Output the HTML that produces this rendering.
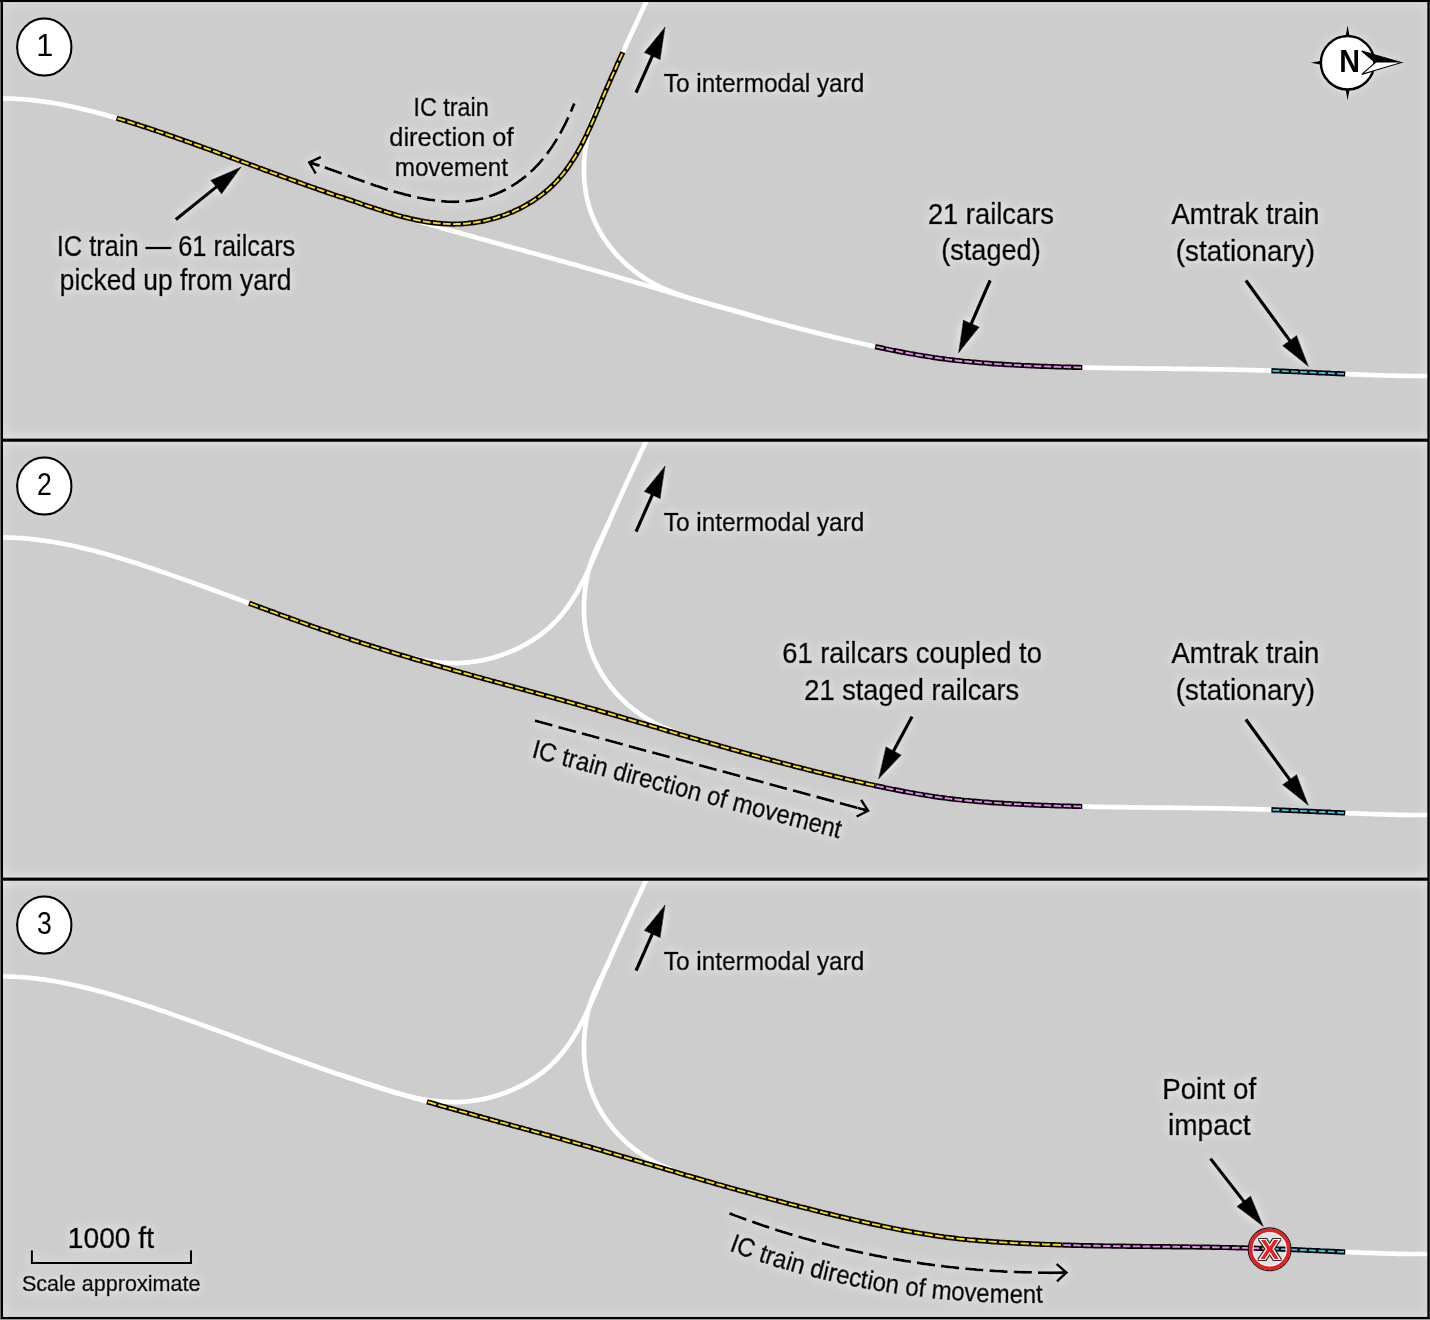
<!DOCTYPE html>
<html lang="en"><head><meta charset="utf-8"><title>Railcar movement diagram</title>
<style>html,body{margin:0;padding:0;background:#cdcdcd}svg{display:block}</style></head>
<body>
<svg width="1430" height="1320" viewBox="0 0 1430 1320" font-family="'Liberation Sans', sans-serif">
<defs>
<filter id="glowu" x="-100" y="-100" width="1700" height="700" filterUnits="userSpaceOnUse">
<feGaussianBlur in="SourceAlpha" stdDeviation="5" result="b"/>
<feFlood flood-color="#fff" flood-opacity="1"/><feComposite in2="b" operator="in" result="g"/>
<feComponentTransfer in="g" result="g2"><feFuncA type="linear" slope="0.9"/></feComponentTransfer>
<feMerge><feMergeNode in="g2"/><feMergeNode in="SourceGraphic"/></feMerge>
</filter>
<filter id="glowc" x="1280" y="0" width="150" height="130" filterUnits="userSpaceOnUse">
<feGaussianBlur in="SourceAlpha" stdDeviation="4" result="b"/>
<feFlood flood-color="#fff" flood-opacity="1"/><feComposite in2="b" operator="in" result="g"/>
<feComponentTransfer in="g" result="g2"><feFuncA type="linear" slope="0.5"/></feComponentTransfer>
<feMerge><feMergeNode in="g2"/><feMergeNode in="SourceGraphic"/></feMerge>
</filter>
<filter id="glowk" x="0" y="0" width="120" height="1000" filterUnits="userSpaceOnUse">
<feGaussianBlur in="SourceAlpha" stdDeviation="4" result="b"/>
<feFlood flood-color="#fff" flood-opacity="1"/><feComposite in2="b" operator="in" result="g"/>
<feComponentTransfer in="g" result="g2"><feFuncA type="linear" slope="0.18"/></feComponentTransfer>
<feMerge><feMergeNode in="g2"/><feMergeNode in="SourceGraphic"/></feMerge>
</filter>
<filter id="glowf" x="0" y="0" width="1430" height="1320" filterUnits="userSpaceOnUse">
<feGaussianBlur in="SourceAlpha" stdDeviation="6" result="b"/>
<feFlood flood-color="#fff" flood-opacity="1"/><feComposite in2="b" operator="in" result="g"/>
<feComponentTransfer in="g" result="g2"><feFuncA type="linear" slope="1.0"/></feComponentTransfer>
<feMerge><feMergeNode in="g2"/><feMergeNode in="SourceGraphic"/></feMerge>
</filter>
<filter id="xo" x="1240" y="1220" width="60" height="60" filterUnits="userSpaceOnUse">
<feMorphology in="SourceAlpha" operator="dilate" radius="0.55" result="d"/>
<feFlood flood-color="#2a2a2a"/><feComposite in2="d" operator="in" result="o"/>
<feMerge><feMergeNode in="o"/><feMergeNode in="SourceGraphic"/></feMerge>
</filter>
<clipPath id="pc"><rect x="0" y="0" width="1430" height="439.5"/></clipPath>
<g id="trk"><path d="M-2.0,98.5 L1.0,98.5 L4.0,98.5 L7.0,98.5 L10.0,98.6 L13.0,98.7 L16.0,98.9 L19.0,99.0 L22.0,99.2 L25.0,99.5 L28.0,99.7 L30.9,100.0 L33.9,100.3 L36.9,100.7 L39.9,101.1 L42.9,101.4 L45.8,101.9 L48.8,102.3 L51.8,102.8 L54.7,103.3 L57.7,103.8 L60.6,104.3 L63.6,104.9 L66.5,105.5 L69.5,106.1 L72.4,106.7 L75.3,107.3 L78.3,108.0 L81.2,108.7 L84.1,109.4 L87.0,110.1 L89.9,110.8 L92.8,111.5 L95.7,112.3 L98.6,113.1 L101.5,113.8 L104.4,114.6 L107.3,115.4 L110.2,116.3 L113.1,117.1 L116.0,117.9 L118.8,118.8 L121.7,119.7 L124.6,120.5 L127.4,121.4 L130.3,122.3 L133.2,123.2 L136.0,124.1 L138.9,125.1 L141.7,126.0 L144.6,126.9 L147.4,127.9 L150.3,128.8 L153.1,129.8 L156.0,130.7 L158.8,131.7 L161.6,132.7 L164.5,133.6 L167.3,134.6 L170.1,135.6 L173.0,136.6 L175.8,137.6 L178.6,138.6 L181.5,139.6 L184.3,140.6 L187.1,141.6 L190.0,142.6 L192.8,143.6 L195.6,144.6 L198.4,145.6 L201.2,146.6 L204.1,147.7 L206.9,148.7 L209.7,149.7 L212.5,150.7 L215.3,151.8 L218.2,152.8 L221.0,153.8 L223.8,154.9 L226.6,155.9 L229.4,156.9 L232.2,158.0 L235.0,159.0 L237.9,160.1 L240.7,161.1 L243.5,162.1 L246.3,163.2 L249.1,164.2 L251.9,165.3 L254.7,166.3 L257.6,167.3 L260.4,168.4 L263.2,169.4 L266.0,170.5 L268.8,171.5 L271.6,172.5 L274.4,173.6 L277.3,174.6 L280.1,175.6 L282.9,176.7 L285.7,177.7 L288.5,178.7 L291.4,179.7 L294.2,180.8 L297.0,181.8 L299.8,182.8 L302.6,183.8 L305.5,184.8 L308.3,185.8 L311.1,186.8 L314.0,187.8 L316.8,188.8 L319.6,189.8 L322.5,190.8 L325.3,191.8 L328.1,192.7 L331.0,193.7 L333.8,194.7 L336.6,195.7 L339.5,196.6 L342.3,197.6 L345.2,198.5 L348.0,199.5 L350.9,200.4 L353.7,201.3 L356.6,202.3 L359.4,203.2 L362.3,204.1 L365.1,205.0 L368.0,205.9 L370.9,206.8 L373.7,207.7 L376.6,208.6 L379.4,209.5 L382.3,210.4 L385.2,211.3 L388.0,212.2 L390.9,213.0 L393.8,213.9 L396.7,214.8 L399.5,215.6 L402.4,216.5 L405.3,217.4 L408.2,218.2 L411.0,219.1 L413.9,219.9 L416.8,220.8 L419.7,221.6 L422.6,222.4 L425.4,223.3 L428.3,224.1 L431.2,224.9 L434.1,225.8 L437.0,226.6 L439.9,227.4 L442.7,228.2 L445.6,229.0 L448.5,229.9 L451.4,230.7 L454.3,231.5 L457.2,232.3 L460.1,233.1 L463.0,233.9 L465.8,234.7 L468.7,235.5 L471.6,236.3 L474.5,237.1 L477.4,237.9 L480.3,238.7 L483.2,239.5 L486.1,240.3 L489.0,241.1 L491.9,241.9 L494.8,242.7 L497.7,243.5 L500.6,244.3 L503.4,245.1 L506.3,245.9 L509.2,246.6 L512.1,247.4 L515.0,248.2 L517.9,249.0 L520.8,249.8 L523.7,250.6 L526.6,251.4 L529.5,252.2 L532.4,253.0 L535.3,253.8 L538.2,254.6 L541.1,255.4 L544.0,256.2 L546.8,257.0 L549.7,257.8 L552.6,258.6 L555.5,259.4 L558.4,260.2 L561.3,261.0 L564.2,261.8 L567.1,262.6 L570.0,263.4 L572.9,264.2 L575.7,265.0 L578.6,265.8 L581.5,266.7 L584.4,267.5 L587.3,268.3 L590.2,269.1 L593.1,270.0 L595.9,270.8 L598.8,271.6 L601.7,272.5 L604.6,273.3 L607.5,274.1 L610.3,275.0 L613.2,275.8 L616.1,276.6 L619.0,277.5 L621.9,278.3 L624.7,279.2 L627.6,280.0 L630.5,280.8 L633.4,281.7 L636.3,282.5 L639.1,283.4 L642.0,284.2 L644.9,285.1 L647.8,285.9 L650.6,286.8 L653.5,287.6 L656.4,288.5 L659.3,289.3 L662.2,290.2 L665.0,291.0 L667.9,291.8 L670.8,292.7 L673.7,293.5 L676.6,294.4 L679.4,295.2 L682.3,296.1 L685.2,296.9 L688.1,297.7 L691.0,298.6 L693.8,299.4 L696.7,300.2 L699.6,301.1 L702.5,301.9 L705.4,302.7 L708.2,303.6 L711.1,304.4 L714.0,305.2 L716.9,306.0 L719.8,306.9 L722.7,307.7 L725.6,308.5 L728.4,309.3 L731.3,310.1 L734.2,310.9 L737.1,311.7 L740.0,312.6 L742.9,313.4 L745.8,314.2 L748.7,315.0 L751.6,315.8 L754.5,316.6 L757.4,317.3 L760.2,318.1 L763.1,318.9 L766.0,319.7 L768.9,320.5 L771.8,321.3 L774.7,322.0 L777.6,322.8 L780.5,323.6 L783.4,324.3 L786.3,325.1 L789.2,325.9 L792.1,326.6 L795.0,327.4 L797.9,328.1 L800.8,328.9 L803.8,329.6 L806.7,330.4 L809.6,331.1 L812.5,331.8 L815.4,332.6 L818.3,333.3 L821.2,334.0 L824.1,334.7 L827.0,335.4 L830.0,336.1 L832.9,336.9 L835.8,337.6 L838.7,338.3 L841.6,338.9 L844.5,339.6 L847.5,340.3 L850.4,341.0 L853.3,341.7 L856.2,342.3 L859.2,343.0 L862.1,343.7 L865.0,344.3 L867.9,345.0 L870.9,345.6 L873.8,346.3 L876.7,346.9 L879.7,347.5 L882.6,348.2 L885.5,348.8 L888.5,349.4 L891.4,350.0 L894.4,350.6 L897.3,351.1 L900.2,351.7 L903.2,352.3 L906.1,352.8 L909.1,353.4 L912.0,353.9 L915.0,354.4 L918.0,355.0 L920.9,355.5 L923.9,355.9 L926.8,356.4 L929.8,356.9 L932.8,357.3 L935.7,357.8 L938.7,358.2 L941.7,358.6 L944.6,359.0 L947.6,359.4 L950.6,359.8 L953.6,360.1 L956.6,360.5 L959.5,360.8 L962.5,361.1 L965.5,361.4 L968.5,361.7 L971.5,362.0 L974.5,362.3 L977.5,362.5 L980.4,362.8 L983.4,363.0 L986.4,363.2 L989.4,363.4 L992.4,363.7 L995.4,363.9 L998.4,364.1 L1001.4,364.3 L1004.4,364.4 L1007.4,364.6 L1010.4,364.8 L1013.4,365.0 L1016.4,365.1 L1019.4,365.3 L1022.4,365.4 L1025.4,365.6 L1028.4,365.7 L1031.3,365.8 L1034.3,366.0 L1037.3,366.1 L1040.3,366.2 L1043.3,366.3 L1046.3,366.5 L1049.3,366.6 L1052.3,366.7 L1055.3,366.8 L1058.3,366.9 L1061.3,367.0 L1064.3,367.0 L1067.3,367.1 L1070.3,367.2 L1073.3,367.3 L1076.3,367.4 L1079.3,367.4 L1082.3,367.5 L1085.3,367.6 L1088.3,367.6 L1091.3,367.7 L1094.3,367.8 L1097.3,367.8 L1100.3,367.9 L1103.3,367.9 L1106.3,368.0 L1109.3,368.0 L1112.3,368.1 L1115.3,368.1 L1118.3,368.2 L1121.3,368.2 L1124.3,368.2 L1127.3,368.3 L1130.3,368.3 L1133.3,368.4 L1136.3,368.4 L1139.3,368.4 L1142.3,368.5 L1145.3,368.5 L1148.3,368.5 L1151.3,368.6 L1154.3,368.6 L1157.3,368.6 L1160.3,368.7 L1163.3,368.7 L1166.3,368.7 L1169.3,368.7 L1172.3,368.8 L1175.3,368.8 L1178.3,368.8 L1181.3,368.9 L1184.3,368.9 L1187.3,368.9 L1190.3,369.0 L1193.3,369.0 L1196.3,369.1 L1199.3,369.1 L1202.3,369.1 L1205.3,369.2 L1208.3,369.2 L1211.3,369.3 L1214.3,369.3 L1217.3,369.4 L1220.3,369.4 L1223.3,369.5 L1226.3,369.5 L1229.3,369.6 L1232.3,369.7 L1235.3,369.7 L1238.3,369.8 L1241.3,369.9 L1244.3,369.9 L1247.3,370.0 L1250.3,370.1 L1253.3,370.2 L1256.3,370.2 L1259.3,370.3 L1262.3,370.4 L1265.3,370.5 L1268.3,370.6 L1271.3,370.7 L1274.3,370.8 L1277.3,371.0 L1280.3,371.1 L1283.3,371.2 L1286.3,371.3 L1289.3,371.4 L1292.3,371.6 L1295.3,371.7 L1298.3,371.8 L1301.3,372.0 L1304.3,372.1 L1307.3,372.2 L1310.3,372.4 L1313.2,372.5 L1316.2,372.7 L1319.2,372.8 L1322.2,372.9 L1325.2,373.1 L1328.2,373.2 L1331.2,373.4 L1334.2,373.5 L1337.2,373.6 L1340.2,373.8 L1343.2,373.9 L1346.2,374.0 L1349.2,374.2 L1352.2,374.3 L1355.2,374.4 L1358.2,374.5 L1361.2,374.7 L1364.2,374.8 L1367.2,374.9 L1370.2,375.0 L1373.2,375.1 L1376.2,375.2 L1379.2,375.3 L1382.2,375.4 L1385.2,375.5 L1388.2,375.6 L1391.2,375.6 L1394.2,375.7 L1397.2,375.8 L1400.2,375.8 L1403.2,375.9 L1406.2,375.9 L1409.2,376.0 L1412.2,376.0 L1415.2,376.0 L1418.2,376.0 L1421.2,376.0 L1424.2,376.0 L1427.2,376.0 L1430.2,376.0 L1432.0,376.0" fill="none" stroke="#fff" stroke-width="4.7"/><path d="M340.1,196.7 L343.0,197.6 L345.8,198.6 L348.6,199.5 L351.5,200.5 L354.3,201.5 L357.2,202.4 L360.0,203.4 L362.8,204.4 L365.7,205.3 L368.5,206.3 L371.4,207.2 L374.2,208.2 L377.1,209.1 L379.9,210.0 L382.8,210.9 L385.7,211.8 L388.5,212.7 L391.4,213.6 L394.3,214.4 L397.2,215.2 L400.1,216.0 L403.0,216.8 L405.9,217.5 L408.8,218.2 L411.7,218.9 L414.6,219.6 L417.6,220.2 L420.5,220.8 L423.5,221.3 L426.4,221.8 L429.4,222.2 L432.4,222.7 L435.3,223.0 L438.3,223.3 L441.3,223.6 L444.3,223.8 L447.3,223.9 L450.3,224.0 L453.3,224.1 L456.3,224.1 L459.3,224.0 L462.3,223.8 L465.3,223.6 L468.3,223.3 L471.3,223.0 L474.2,222.6 L477.2,222.2 L480.1,221.6 L483.1,221.1 L486.0,220.4 L488.9,219.7 L491.8,219.0 L494.7,218.2 L497.6,217.3 L500.5,216.4 L503.3,215.4 L506.1,214.4 L508.9,213.3 L511.7,212.2 L514.4,211.0 L517.2,209.7 L519.9,208.4 L522.5,207.0 L525.2,205.6 L527.8,204.1 L530.3,202.6 L532.9,201.0 L535.4,199.3 L537.9,197.6 L540.3,195.8 L542.7,194.0 L545.0,192.2 L547.3,190.2 L549.6,188.2 L551.8,186.2 L553.9,184.1 L556.0,182.0 L558.0,179.8 L560.0,177.5 L562.0,175.2 L563.8,172.9 L565.7,170.5 L567.5,168.1 L569.2,165.6 L570.9,163.2 L572.5,160.6 L574.1,158.1 L575.7,155.5 L577.2,153.0 L578.7,150.3 L580.1,147.7 L581.5,145.1 L582.9,142.4 L584.2,139.7 L585.6,137.0 L586.8,134.3 L588.1,131.6 L589.4,128.9 L590.6,126.1 L591.8,123.4 L593.0,120.6 L594.2,117.9 L595.4,115.1 L596.5,112.4 L597.7,109.6 L598.8,106.8 L600.0,104.1 L601.2,101.3 L602.3,98.5 L603.5,95.8 L604.7,93.0 L605.9,90.3 L607.1,87.5 L608.3,84.8 L609.5,82.0 L610.7,79.3 L611.9,76.5 L613.1,73.8 L614.3,71.0 L615.6,68.3 L616.8,65.6 L618.0,62.8 L619.3,60.1 L620.5,57.4 L621.7,54.6 L623.0,51.9 L624.2,49.2 L625.5,46.4 L626.7,43.7 L628.0,41.0 L629.3,38.3 L630.5,35.5 L631.8,32.8 L633.0,30.1 L634.3,27.4 L635.6,24.7 L636.8,21.9 L638.1,19.2 L639.4,16.5 L640.6,13.8 L641.9,11.1 L643.2,8.4 L644.4,5.6 L645.7,2.9 L647.0,0.2 L648.3,-2.5 L648.8,-3.6" fill="none" stroke="#fff" stroke-width="4.7"/><path d="M608.7,84.1 L607.5,86.8 L606.2,89.6 L604.9,92.3 L603.6,95.0 L602.3,97.7 L600.9,100.3 L599.6,103.0 L598.3,105.7 L597.0,108.4 L595.8,111.2 L594.5,113.9 L593.4,116.7 L592.3,119.5 L591.3,122.3 L590.4,125.1 L589.5,128.0 L588.7,130.9 L588.0,133.8 L587.4,136.8 L586.8,139.7 L586.3,142.7 L585.8,145.6 L585.4,148.6 L585.0,151.6 L584.7,154.6 L584.5,157.5 L584.3,160.5 L584.1,163.5 L584.0,166.5 L584.0,169.5 L584.0,172.5 L584.1,175.5 L584.3,178.5 L584.5,181.5 L584.8,184.5 L585.1,187.5 L585.5,190.5 L586.0,193.4 L586.6,196.4 L587.2,199.3 L587.9,202.2 L588.7,205.1 L589.6,208.0 L590.5,210.8 L591.5,213.7 L592.6,216.5 L593.7,219.2 L595.0,222.0 L596.2,224.7 L597.6,227.4 L599.0,230.0 L600.5,232.6 L602.0,235.2 L603.6,237.7 L605.3,240.2 L607.0,242.7 L608.8,245.1 L610.6,247.5 L612.5,249.8 L614.4,252.1 L616.4,254.4 L618.4,256.6 L620.5,258.7 L622.6,260.8 L624.8,262.9 L627.0,264.9 L629.3,266.9 L631.6,268.8 L633.9,270.7 L636.3,272.5 L638.8,274.3 L641.2,276.0 L643.7,277.7 L646.2,279.3 L648.8,280.8 L651.4,282.3 L654.0,283.8 L656.7,285.1 L659.4,286.5 L662.1,287.8 L664.8,289.0 L667.6,290.2 L670.4,291.3 L673.2,292.4 L676.0,293.5 L678.8,294.5 L681.6,295.5 L684.4,296.5 L687.3,297.4 L690.2,298.3 L693.0,299.2 L695.9,300.1 L698.8,300.9 L701.7,301.8 L704.5,302.6 L707.4,303.4 L710.3,304.1 L713.2,304.9 L716.1,305.7 L719.0,306.4 L721.9,307.2 L724.8,308.0 L727.7,308.7 L730.6,309.5 L733.5,310.3 L736.4,311.1 L739.3,311.9 L742.2,312.7 L745.1,313.5 L748.0,314.4 L750.8,315.2 L753.7,316.1 L756.6,317.1 L759.4,318.0 L759.8,318.2" fill="none" stroke="#fff" stroke-width="4.7"/></g></defs>
<rect width="1430" height="1320" fill="#cdcdcd"/>
<g transform="translate(0,0)" clip-path="url(#pc)"><use href="#trk"/><path d="M116.6,118.1 L119.0,118.9 L121.4,119.6 L123.8,120.3 L126.2,121.0 L128.6,121.8 L130.9,122.5 L133.3,123.3 L135.7,124.1 L138.1,124.8 L140.5,125.6 L142.8,126.4 L145.2,127.1 L147.6,127.9 L150.0,128.7 L152.3,129.5 L154.7,130.3 L157.1,131.1 L159.4,131.9 L161.8,132.7 L164.2,133.5 L166.5,134.3 L168.9,135.2 L171.3,136.0 L173.6,136.8 L176.0,137.6 L178.3,138.5 L180.7,139.3 L183.1,140.1 L185.4,141.0 L187.8,141.8 L190.1,142.6 L192.5,143.5 L194.8,144.3 L197.2,145.2 L199.5,146.0 L201.9,146.9 L204.2,147.7 L206.6,148.6 L208.9,149.4 L211.3,150.3 L213.6,151.1 L216.0,152.0 L218.3,152.9 L220.7,153.7 L223.0,154.6 L225.4,155.4 L227.7,156.3 L230.1,157.2 L232.4,158.0 L234.7,158.9 L237.1,159.8 L239.4,160.6 L241.8,161.5 L244.1,162.4 L246.5,163.2 L248.8,164.1 L251.2,165.0 L253.5,165.8 L255.8,166.7 L258.2,167.6 L260.5,168.4 L262.9,169.3 L265.2,170.2 L267.6,171.0 L269.9,171.9 L272.3,172.8 L274.6,173.6 L277.0,174.5 L279.3,175.3 L281.7,176.2 L284.0,177.1 L286.4,177.9 L288.7,178.8 L291.1,179.6 L293.4,180.5 L295.8,181.3 L298.1,182.2 L300.5,183.0 L302.8,183.9 L305.2,184.7 L307.5,185.5 L309.9,186.4 L312.2,187.2 L314.6,188.0 L317.0,188.9 L319.3,189.7 L321.7,190.5 L324.0,191.3 L326.4,192.2 L328.8,193.0 L331.1,193.8 L333.5,194.6 L335.9,195.4 L338.2,196.2 L340.6,196.9 L343.0,197.6 L345.4,198.4 L347.7,199.2 L350.1,200.0 L352.5,200.8 L354.9,201.6 L357.2,202.4 L359.6,203.2 L362.0,204.1 L364.3,204.9 L366.7,205.7 L369.1,206.5 L371.4,207.2 L373.8,208.0 L376.2,208.8 L378.6,209.6 L380.9,210.3 L383.3,211.1 L385.7,211.8 L388.1,212.6 L390.5,213.3 L392.9,214.0 L395.3,214.7 L397.7,215.4 L400.1,216.0 L402.5,216.7 L404.9,217.3 L407.4,217.9 L409.8,218.5 L412.2,219.0 L414.7,219.6 L417.1,220.1 L419.6,220.6 L422.0,221.0 L424.5,221.5 L427.0,221.9 L429.4,222.3 L431.9,222.6 L434.4,222.9 L436.9,223.2 L439.4,223.4 L441.9,223.6 L444.4,223.8 L446.9,223.9 L449.4,224.0 L451.9,224.1 L454.4,224.1 L456.8,224.0 L459.3,224.0 L461.8,223.8 L464.3,223.7 L466.8,223.5 L469.3,223.2 L471.8,222.9 L474.3,222.6 L476.8,222.2 L479.2,221.8 L481.7,221.4 L484.1,220.9 L486.6,220.3 L489.0,219.7 L491.4,219.1 L493.8,218.5 L496.2,217.8 L498.6,217.0 L501.0,216.2 L503.4,215.4 L505.7,214.6 L508.0,213.7 L510.4,212.7 L512.7,211.8 L514.9,210.7 L517.2,209.7 L519.5,208.6 L521.7,207.5 L523.9,206.3 L526.1,205.1 L528.2,203.8 L530.4,202.5 L532.5,201.2 L534.6,199.8 L536.7,198.4 L538.7,197.0 L540.7,195.5 L542.7,194.0 L544.7,192.4 L546.6,190.8 L548.5,189.2 L550.3,187.5 L552.2,185.8 L553.9,184.1 L555.7,182.3 L557.4,180.5 L559.1,178.6 L560.7,176.7 L562.3,174.8 L563.9,172.8 L565.4,170.9 L566.9,168.9 L568.4,166.8 L569.8,164.8 L571.2,162.7 L572.5,160.6 L573.9,158.5 L575.2,156.4 L576.5,154.2 L577.7,152.0 L578.9,149.9 L580.1,147.7 L581.3,145.5 L582.5,143.2 L583.6,141.0 L584.7,138.8 L585.8,136.5 L586.9,134.3 L587.9,132.0 L589.0,129.7 L590.0,127.5 L591.0,125.2 L592.0,122.9 L593.0,120.6 L594.0,118.3 L595.0,116.0 L596.0,113.7 L596.9,111.4 L597.9,109.1 L598.9,106.8 L599.8,104.5 L600.8,102.2 L601.8,99.9 L602.8,97.6 L603.7,95.3 L604.7,93.0 L605.7,90.7 L606.7,88.4 L607.7,86.1 L608.7,83.8 L609.7,81.5 L610.7,79.2 L611.7,76.9 L612.7,74.6 L613.8,72.4 L614.8,70.1 L615.8,67.8 L616.8,65.5 L617.8,63.2 L618.9,61.0 L619.9,58.7 L620.9,56.4 L622.0,54.1 L622.8,52.3" fill="none" stroke="#000" stroke-width="5.2"/><path d="M116.6,118.1 L119.0,118.9 L121.4,119.6 L123.8,120.3 L126.2,121.0 L128.6,121.8 L130.9,122.5 L133.3,123.3 L135.7,124.1 L138.1,124.8 L140.5,125.6 L142.8,126.4 L145.2,127.1 L147.6,127.9 L150.0,128.7 L152.3,129.5 L154.7,130.3 L157.1,131.1 L159.4,131.9 L161.8,132.7 L164.2,133.5 L166.5,134.3 L168.9,135.2 L171.3,136.0 L173.6,136.8 L176.0,137.6 L178.3,138.5 L180.7,139.3 L183.1,140.1 L185.4,141.0 L187.8,141.8 L190.1,142.6 L192.5,143.5 L194.8,144.3 L197.2,145.2 L199.5,146.0 L201.9,146.9 L204.2,147.7 L206.6,148.6 L208.9,149.4 L211.3,150.3 L213.6,151.1 L216.0,152.0 L218.3,152.9 L220.7,153.7 L223.0,154.6 L225.4,155.4 L227.7,156.3 L230.1,157.2 L232.4,158.0 L234.7,158.9 L237.1,159.8 L239.4,160.6 L241.8,161.5 L244.1,162.4 L246.5,163.2 L248.8,164.1 L251.2,165.0 L253.5,165.8 L255.8,166.7 L258.2,167.6 L260.5,168.4 L262.9,169.3 L265.2,170.2 L267.6,171.0 L269.9,171.9 L272.3,172.8 L274.6,173.6 L277.0,174.5 L279.3,175.3 L281.7,176.2 L284.0,177.1 L286.4,177.9 L288.7,178.8 L291.1,179.6 L293.4,180.5 L295.8,181.3 L298.1,182.2 L300.5,183.0 L302.8,183.9 L305.2,184.7 L307.5,185.5 L309.9,186.4 L312.2,187.2 L314.6,188.0 L317.0,188.9 L319.3,189.7 L321.7,190.5 L324.0,191.3 L326.4,192.2 L328.8,193.0 L331.1,193.8 L333.5,194.6 L335.9,195.4 L338.2,196.2 L340.6,196.9 L343.0,197.6 L345.4,198.4 L347.7,199.2 L350.1,200.0 L352.5,200.8 L354.9,201.6 L357.2,202.4 L359.6,203.2 L362.0,204.1 L364.3,204.9 L366.7,205.7 L369.1,206.5 L371.4,207.2 L373.8,208.0 L376.2,208.8 L378.6,209.6 L380.9,210.3 L383.3,211.1 L385.7,211.8 L388.1,212.6 L390.5,213.3 L392.9,214.0 L395.3,214.7 L397.7,215.4 L400.1,216.0 L402.5,216.7 L404.9,217.3 L407.4,217.9 L409.8,218.5 L412.2,219.0 L414.7,219.6 L417.1,220.1 L419.6,220.6 L422.0,221.0 L424.5,221.5 L427.0,221.9 L429.4,222.3 L431.9,222.6 L434.4,222.9 L436.9,223.2 L439.4,223.4 L441.9,223.6 L444.4,223.8 L446.9,223.9 L449.4,224.0 L451.9,224.1 L454.4,224.1 L456.8,224.0 L459.3,224.0 L461.8,223.8 L464.3,223.7 L466.8,223.5 L469.3,223.2 L471.8,222.9 L474.3,222.6 L476.8,222.2 L479.2,221.8 L481.7,221.4 L484.1,220.9 L486.6,220.3 L489.0,219.7 L491.4,219.1 L493.8,218.5 L496.2,217.8 L498.6,217.0 L501.0,216.2 L503.4,215.4 L505.7,214.6 L508.0,213.7 L510.4,212.7 L512.7,211.8 L514.9,210.7 L517.2,209.7 L519.5,208.6 L521.7,207.5 L523.9,206.3 L526.1,205.1 L528.2,203.8 L530.4,202.5 L532.5,201.2 L534.6,199.8 L536.7,198.4 L538.7,197.0 L540.7,195.5 L542.7,194.0 L544.7,192.4 L546.6,190.8 L548.5,189.2 L550.3,187.5 L552.2,185.8 L553.9,184.1 L555.7,182.3 L557.4,180.5 L559.1,178.6 L560.7,176.7 L562.3,174.8 L563.9,172.8 L565.4,170.9 L566.9,168.9 L568.4,166.8 L569.8,164.8 L571.2,162.7 L572.5,160.6 L573.9,158.5 L575.2,156.4 L576.5,154.2 L577.7,152.0 L578.9,149.9 L580.1,147.7 L581.3,145.5 L582.5,143.2 L583.6,141.0 L584.7,138.8 L585.8,136.5 L586.9,134.3 L587.9,132.0 L589.0,129.7 L590.0,127.5 L591.0,125.2 L592.0,122.9 L593.0,120.6 L594.0,118.3 L595.0,116.0 L596.0,113.7 L596.9,111.4 L597.9,109.1 L598.9,106.8 L599.8,104.5 L600.8,102.2 L601.8,99.9 L602.8,97.6 L603.7,95.3 L604.7,93.0 L605.7,90.7 L606.7,88.4 L607.7,86.1 L608.7,83.8 L609.7,81.5 L610.7,79.2 L611.7,76.9 L612.7,74.6 L613.8,72.4 L614.8,70.1 L615.8,67.8 L616.8,65.5 L617.8,63.2 L618.9,61.0 L619.9,58.7 L620.9,56.4 L622.0,54.1 L622.8,52.3" fill="none" stroke="#ffe100" stroke-width="1.9" stroke-dasharray="7.673 2.4" stroke-dashoffset="-1.20"/><path d="M875.2,346.6 L877.6,347.1 L880.1,347.6 L882.5,348.1 L885.0,348.7 L887.4,349.2 L889.9,349.7 L892.3,350.2 L894.8,350.6 L897.2,351.1 L899.7,351.6 L902.1,352.1 L904.6,352.6 L907.1,353.0 L909.5,353.5 L912.0,353.9 L914.4,354.3 L916.9,354.8 L919.4,355.2 L921.8,355.6 L924.3,356.0 L926.8,356.4 L929.2,356.8 L931.7,357.2 L934.2,357.6 L936.6,357.9 L939.1,358.3 L941.6,358.6 L944.1,358.9 L946.6,359.3 L949.0,359.6 L951.5,359.9 L954.0,360.2 L956.5,360.5 L959.0,360.7 L961.5,361.0 L963.9,361.3 L966.4,361.5 L968.9,361.7 L971.4,362.0 L973.9,362.2 L976.4,362.4 L978.9,362.6 L981.4,362.8 L983.9,363.0 L986.4,363.2 L988.9,363.4 L991.3,363.6 L993.8,363.8 L996.3,363.9 L998.8,364.1 L1001.3,364.2 L1003.8,364.4 L1006.3,364.6 L1008.8,364.7 L1011.3,364.8 L1013.8,365.0 L1016.3,365.1 L1018.8,365.2 L1021.3,365.4 L1023.8,365.5 L1026.3,365.6 L1028.8,365.7 L1031.3,365.8 L1033.8,365.9 L1036.3,366.1 L1038.8,366.2 L1041.3,366.3 L1043.8,366.4 L1046.3,366.4 L1048.8,366.5 L1051.3,366.6 L1053.8,366.7 L1056.3,366.8 L1058.8,366.9 L1061.3,367.0 L1063.8,367.0 L1066.3,367.1 L1068.8,367.2 L1071.3,367.2 L1073.8,367.3 L1076.3,367.4 L1078.8,367.4 L1081.3,367.5 L1082.3,367.5" fill="none" stroke="#000" stroke-width="5.2"/><path d="M875.2,346.6 L877.6,347.1 L880.1,347.6 L882.5,348.1 L885.0,348.7 L887.4,349.2 L889.9,349.7 L892.3,350.2 L894.8,350.6 L897.2,351.1 L899.7,351.6 L902.1,352.1 L904.6,352.6 L907.1,353.0 L909.5,353.5 L912.0,353.9 L914.4,354.3 L916.9,354.8 L919.4,355.2 L921.8,355.6 L924.3,356.0 L926.8,356.4 L929.2,356.8 L931.7,357.2 L934.2,357.6 L936.6,357.9 L939.1,358.3 L941.6,358.6 L944.1,358.9 L946.6,359.3 L949.0,359.6 L951.5,359.9 L954.0,360.2 L956.5,360.5 L959.0,360.7 L961.5,361.0 L963.9,361.3 L966.4,361.5 L968.9,361.7 L971.4,362.0 L973.9,362.2 L976.4,362.4 L978.9,362.6 L981.4,362.8 L983.9,363.0 L986.4,363.2 L988.9,363.4 L991.3,363.6 L993.8,363.8 L996.3,363.9 L998.8,364.1 L1001.3,364.2 L1003.8,364.4 L1006.3,364.6 L1008.8,364.7 L1011.3,364.8 L1013.8,365.0 L1016.3,365.1 L1018.8,365.2 L1021.3,365.4 L1023.8,365.5 L1026.3,365.6 L1028.8,365.7 L1031.3,365.8 L1033.8,365.9 L1036.3,366.1 L1038.8,366.2 L1041.3,366.3 L1043.8,366.4 L1046.3,366.4 L1048.8,366.5 L1051.3,366.6 L1053.8,366.7 L1056.3,366.8 L1058.8,366.9 L1061.3,367.0 L1063.8,367.0 L1066.3,367.1 L1068.8,367.2 L1071.3,367.2 L1073.8,367.3 L1076.3,367.4 L1078.8,367.4 L1081.3,367.5 L1082.3,367.5" fill="none" stroke="#f184f1" stroke-width="1.9" stroke-dasharray="7.531 2.4" stroke-dashoffset="-1.20"/><path d="M1271.4,370.7 L1273.9,370.8 L1276.4,370.9 L1278.9,371.0 L1281.4,371.1 L1283.9,371.2 L1286.4,371.3 L1288.9,371.4 L1291.4,371.5 L1293.9,371.6 L1296.4,371.7 L1298.9,371.9 L1301.4,372.0 L1303.9,372.1 L1306.4,372.2 L1308.9,372.3 L1311.4,372.4 L1313.9,372.5 L1316.4,372.7 L1318.9,372.8 L1321.4,372.9 L1323.9,373.0 L1326.3,373.1 L1328.8,373.2 L1331.3,373.4 L1333.8,373.5 L1336.3,373.6 L1338.8,373.7 L1341.3,373.8 L1343.8,373.9 L1345.2,374.0" fill="none" stroke="#000" stroke-width="5.2"/><path d="M1271.4,370.7 L1273.9,370.8 L1276.4,370.9 L1278.9,371.0 L1281.4,371.1 L1283.9,371.2 L1286.4,371.3 L1288.9,371.4 L1291.4,371.5 L1293.9,371.6 L1296.4,371.7 L1298.9,371.9 L1301.4,372.0 L1303.9,372.1 L1306.4,372.2 L1308.9,372.3 L1311.4,372.4 L1313.9,372.5 L1316.4,372.7 L1318.9,372.8 L1321.4,372.9 L1323.9,373.0 L1326.3,373.1 L1328.8,373.2 L1331.3,373.4 L1333.8,373.5 L1336.3,373.6 L1338.8,373.7 L1341.3,373.8 L1343.8,373.9 L1345.2,374.0" fill="none" stroke="#35c8ea" stroke-width="1.8" stroke-dasharray="6.834 2.4" stroke-dashoffset="-1.20"/></g>
<g transform="translate(0,439)" clip-path="url(#pc)"><use href="#trk"/><path d="M249.0,164.2 L251.3,165.0 L253.7,165.9 L256.0,166.8 L258.4,167.6 L260.7,168.5 L263.1,169.4 L265.4,170.2 L267.8,171.1 L270.1,172.0 L272.5,172.8 L274.8,173.7 L277.1,174.6 L279.5,175.4 L281.8,176.3 L284.2,177.1 L286.5,178.0 L288.9,178.8 L291.2,179.7 L293.6,180.5 L295.9,181.4 L298.3,182.2 L300.6,183.1 L303.0,183.9 L305.4,184.8 L307.7,185.6 L310.1,186.4 L312.4,187.3 L314.8,188.1 L317.1,188.9 L319.5,189.8 L321.9,190.6 L324.2,191.4 L326.6,192.2 L329.0,193.0 L331.3,193.8 L333.7,194.6 L336.0,195.5 L338.4,196.3 L340.8,197.0 L343.2,197.8 L345.5,198.6 L347.9,199.4 L350.3,200.2 L352.7,201.0 L355.0,201.8 L357.4,202.5 L359.8,203.3 L362.2,204.1 L364.5,204.8 L366.9,205.6 L369.3,206.3 L371.7,207.1 L374.1,207.8 L376.5,208.6 L378.9,209.3 L381.2,210.1 L383.6,210.8 L386.0,211.5 L388.4,212.3 L390.8,213.0 L393.2,213.7 L395.6,214.5 L398.0,215.2 L400.4,215.9 L402.8,216.6 L405.2,217.3 L407.6,218.0 L410.0,218.7 L412.4,219.5 L414.8,220.2 L417.2,220.9 L419.6,221.6 L422.0,222.3 L424.4,223.0 L426.8,223.7 L429.2,224.3 L431.6,225.0 L434.0,225.7 L436.4,226.4 L438.8,227.1 L441.2,227.8 L443.6,228.5 L446.0,229.1 L448.4,229.8 L450.8,230.5 L453.2,231.2 L455.6,231.9 L458.0,232.5 L460.4,233.2 L462.8,233.9 L465.2,234.5 L467.7,235.2 L470.1,235.9 L472.5,236.5 L474.9,237.2 L477.3,237.9 L479.7,238.5 L482.1,239.2 L484.5,239.9 L486.9,240.5 L489.3,241.2 L491.8,241.9 L494.2,242.5 L496.6,243.2 L499.0,243.8 L501.4,244.5 L503.8,245.2 L506.2,245.8 L508.6,246.5 L511.0,247.1 L513.5,247.8 L515.9,248.5 L518.3,249.1 L520.7,249.8 L523.1,250.4 L525.5,251.1 L527.9,251.8 L530.3,252.4 L532.7,253.1 L535.2,253.7 L537.6,254.4 L540.0,255.1 L542.4,255.7 L544.8,256.4 L547.2,257.1 L549.6,257.7 L552.0,258.4 L554.4,259.1 L556.8,259.7 L559.3,260.4 L561.7,261.1 L564.1,261.8 L566.5,262.4 L568.9,263.1 L571.3,263.8 L573.7,264.5 L576.1,265.1 L578.5,265.8 L580.9,266.5 L583.3,267.2 L585.7,267.9 L588.1,268.6 L590.5,269.2 L592.9,269.9 L595.3,270.6 L597.7,271.3 L600.1,272.0 L602.5,272.7 L604.9,273.4 L607.3,274.1 L609.7,274.8 L612.1,275.5 L614.5,276.2 L616.9,276.9 L619.3,277.6 L621.7,278.3 L624.1,279.0 L626.5,279.7 L628.9,280.4 L631.3,281.1 L633.7,281.8 L636.1,282.5 L638.5,283.2 L640.9,283.9 L643.3,284.6 L645.7,285.3 L648.1,286.0 L650.5,286.7 L652.9,287.4 L655.3,288.1 L657.7,288.8 L660.1,289.6 L662.5,290.3 L664.9,291.0 L667.3,291.7 L669.7,292.4 L672.1,293.1 L674.5,293.8 L676.9,294.5 L679.3,295.2 L681.7,295.9 L684.1,296.6 L686.5,297.3 L688.9,298.0 L691.3,298.7 L693.7,299.4 L696.1,300.1 L698.5,300.8 L700.9,301.5 L703.3,302.2 L705.7,302.8 L708.1,303.5 L710.5,304.2 L712.9,304.9 L715.3,305.6 L717.7,306.3 L720.2,307.0 L722.6,307.7 L725.0,308.3 L727.4,309.0 L729.8,309.7 L732.2,310.4 L734.6,311.0 L737.0,311.7 L739.4,312.4 L741.8,313.1 L744.2,313.7 L746.6,314.4 L749.0,315.1 L751.4,315.7 L753.9,316.4 L756.3,317.0 L758.7,317.7 L761.1,318.4 L763.5,319.0 L765.9,319.7 L768.3,320.3 L770.7,321.0 L773.2,321.6 L775.6,322.3 L778.0,322.9 L780.4,323.6 L782.8,324.2 L785.2,324.8 L787.7,325.5 L790.1,326.1 L792.5,326.7 L794.9,327.4 L797.3,328.0 L799.8,328.6 L802.2,329.2 L804.6,329.8 L807.0,330.5 L809.5,331.1 L811.9,331.7 L814.3,332.3 L816.7,332.9 L819.2,333.5 L821.6,334.1 L824.0,334.7 L826.4,335.3 L828.9,335.9 L831.3,336.5 L833.7,337.1 L836.2,337.6 L838.6,338.2 L841.0,338.8 L843.5,339.4 L845.9,340.0 L848.3,340.5 L850.8,341.1 L853.2,341.6 L855.6,342.2 L858.1,342.8 L860.5,343.3 L862.9,343.9 L865.4,344.4 L867.8,345.0 L870.3,345.5 L872.7,346.0 L875.1,346.6 L875.2,346.6" fill="none" stroke="#000" stroke-width="5.2"/><path d="M249.0,164.2 L251.3,165.0 L253.7,165.9 L256.0,166.8 L258.4,167.6 L260.7,168.5 L263.1,169.4 L265.4,170.2 L267.8,171.1 L270.1,172.0 L272.5,172.8 L274.8,173.7 L277.1,174.6 L279.5,175.4 L281.8,176.3 L284.2,177.1 L286.5,178.0 L288.9,178.8 L291.2,179.7 L293.6,180.5 L295.9,181.4 L298.3,182.2 L300.6,183.1 L303.0,183.9 L305.4,184.8 L307.7,185.6 L310.1,186.4 L312.4,187.3 L314.8,188.1 L317.1,188.9 L319.5,189.8 L321.9,190.6 L324.2,191.4 L326.6,192.2 L329.0,193.0 L331.3,193.8 L333.7,194.6 L336.0,195.5 L338.4,196.3 L340.8,197.0 L343.2,197.8 L345.5,198.6 L347.9,199.4 L350.3,200.2 L352.7,201.0 L355.0,201.8 L357.4,202.5 L359.8,203.3 L362.2,204.1 L364.5,204.8 L366.9,205.6 L369.3,206.3 L371.7,207.1 L374.1,207.8 L376.5,208.6 L378.9,209.3 L381.2,210.1 L383.6,210.8 L386.0,211.5 L388.4,212.3 L390.8,213.0 L393.2,213.7 L395.6,214.5 L398.0,215.2 L400.4,215.9 L402.8,216.6 L405.2,217.3 L407.6,218.0 L410.0,218.7 L412.4,219.5 L414.8,220.2 L417.2,220.9 L419.6,221.6 L422.0,222.3 L424.4,223.0 L426.8,223.7 L429.2,224.3 L431.6,225.0 L434.0,225.7 L436.4,226.4 L438.8,227.1 L441.2,227.8 L443.6,228.5 L446.0,229.1 L448.4,229.8 L450.8,230.5 L453.2,231.2 L455.6,231.9 L458.0,232.5 L460.4,233.2 L462.8,233.9 L465.2,234.5 L467.7,235.2 L470.1,235.9 L472.5,236.5 L474.9,237.2 L477.3,237.9 L479.7,238.5 L482.1,239.2 L484.5,239.9 L486.9,240.5 L489.3,241.2 L491.8,241.9 L494.2,242.5 L496.6,243.2 L499.0,243.8 L501.4,244.5 L503.8,245.2 L506.2,245.8 L508.6,246.5 L511.0,247.1 L513.5,247.8 L515.9,248.5 L518.3,249.1 L520.7,249.8 L523.1,250.4 L525.5,251.1 L527.9,251.8 L530.3,252.4 L532.7,253.1 L535.2,253.7 L537.6,254.4 L540.0,255.1 L542.4,255.7 L544.8,256.4 L547.2,257.1 L549.6,257.7 L552.0,258.4 L554.4,259.1 L556.8,259.7 L559.3,260.4 L561.7,261.1 L564.1,261.8 L566.5,262.4 L568.9,263.1 L571.3,263.8 L573.7,264.5 L576.1,265.1 L578.5,265.8 L580.9,266.5 L583.3,267.2 L585.7,267.9 L588.1,268.6 L590.5,269.2 L592.9,269.9 L595.3,270.6 L597.7,271.3 L600.1,272.0 L602.5,272.7 L604.9,273.4 L607.3,274.1 L609.7,274.8 L612.1,275.5 L614.5,276.2 L616.9,276.9 L619.3,277.6 L621.7,278.3 L624.1,279.0 L626.5,279.7 L628.9,280.4 L631.3,281.1 L633.7,281.8 L636.1,282.5 L638.5,283.2 L640.9,283.9 L643.3,284.6 L645.7,285.3 L648.1,286.0 L650.5,286.7 L652.9,287.4 L655.3,288.1 L657.7,288.8 L660.1,289.6 L662.5,290.3 L664.9,291.0 L667.3,291.7 L669.7,292.4 L672.1,293.1 L674.5,293.8 L676.9,294.5 L679.3,295.2 L681.7,295.9 L684.1,296.6 L686.5,297.3 L688.9,298.0 L691.3,298.7 L693.7,299.4 L696.1,300.1 L698.5,300.8 L700.9,301.5 L703.3,302.2 L705.7,302.8 L708.1,303.5 L710.5,304.2 L712.9,304.9 L715.3,305.6 L717.7,306.3 L720.2,307.0 L722.6,307.7 L725.0,308.3 L727.4,309.0 L729.8,309.7 L732.2,310.4 L734.6,311.0 L737.0,311.7 L739.4,312.4 L741.8,313.1 L744.2,313.7 L746.6,314.4 L749.0,315.1 L751.4,315.7 L753.9,316.4 L756.3,317.0 L758.7,317.7 L761.1,318.4 L763.5,319.0 L765.9,319.7 L768.3,320.3 L770.7,321.0 L773.2,321.6 L775.6,322.3 L778.0,322.9 L780.4,323.6 L782.8,324.2 L785.2,324.8 L787.7,325.5 L790.1,326.1 L792.5,326.7 L794.9,327.4 L797.3,328.0 L799.8,328.6 L802.2,329.2 L804.6,329.8 L807.0,330.5 L809.5,331.1 L811.9,331.7 L814.3,332.3 L816.7,332.9 L819.2,333.5 L821.6,334.1 L824.0,334.7 L826.4,335.3 L828.9,335.9 L831.3,336.5 L833.7,337.1 L836.2,337.6 L838.6,338.2 L841.0,338.8 L843.5,339.4 L845.9,340.0 L848.3,340.5 L850.8,341.1 L853.2,341.6 L855.6,342.2 L858.1,342.8 L860.5,343.3 L862.9,343.9 L865.4,344.4 L867.8,345.0 L870.3,345.5 L872.7,346.0 L875.1,346.6 L875.2,346.6" fill="none" stroke="#ffe100" stroke-width="1.9" stroke-dasharray="8.298 2.4" stroke-dashoffset="-1.20"/><path d="M875.2,346.6 L877.6,347.1 L880.1,347.6 L882.5,348.1 L885.0,348.7 L887.4,349.2 L889.9,349.7 L892.3,350.2 L894.8,350.6 L897.2,351.1 L899.7,351.6 L902.1,352.1 L904.6,352.6 L907.1,353.0 L909.5,353.5 L912.0,353.9 L914.4,354.3 L916.9,354.8 L919.4,355.2 L921.8,355.6 L924.3,356.0 L926.8,356.4 L929.2,356.8 L931.7,357.2 L934.2,357.6 L936.6,357.9 L939.1,358.3 L941.6,358.6 L944.1,358.9 L946.6,359.3 L949.0,359.6 L951.5,359.9 L954.0,360.2 L956.5,360.5 L959.0,360.7 L961.5,361.0 L963.9,361.3 L966.4,361.5 L968.9,361.7 L971.4,362.0 L973.9,362.2 L976.4,362.4 L978.9,362.6 L981.4,362.8 L983.9,363.0 L986.4,363.2 L988.9,363.4 L991.3,363.6 L993.8,363.8 L996.3,363.9 L998.8,364.1 L1001.3,364.2 L1003.8,364.4 L1006.3,364.6 L1008.8,364.7 L1011.3,364.8 L1013.8,365.0 L1016.3,365.1 L1018.8,365.2 L1021.3,365.4 L1023.8,365.5 L1026.3,365.6 L1028.8,365.7 L1031.3,365.8 L1033.8,365.9 L1036.3,366.1 L1038.8,366.2 L1041.3,366.3 L1043.8,366.4 L1046.3,366.4 L1048.8,366.5 L1051.3,366.6 L1053.8,366.7 L1056.3,366.8 L1058.8,366.9 L1061.3,367.0 L1063.8,367.0 L1066.3,367.1 L1068.8,367.2 L1071.3,367.2 L1073.8,367.3 L1076.3,367.4 L1078.8,367.4 L1081.3,367.5 L1082.3,367.5" fill="none" stroke="#000" stroke-width="5.2"/><path d="M875.2,346.6 L877.6,347.1 L880.1,347.6 L882.5,348.1 L885.0,348.7 L887.4,349.2 L889.9,349.7 L892.3,350.2 L894.8,350.6 L897.2,351.1 L899.7,351.6 L902.1,352.1 L904.6,352.6 L907.1,353.0 L909.5,353.5 L912.0,353.9 L914.4,354.3 L916.9,354.8 L919.4,355.2 L921.8,355.6 L924.3,356.0 L926.8,356.4 L929.2,356.8 L931.7,357.2 L934.2,357.6 L936.6,357.9 L939.1,358.3 L941.6,358.6 L944.1,358.9 L946.6,359.3 L949.0,359.6 L951.5,359.9 L954.0,360.2 L956.5,360.5 L959.0,360.7 L961.5,361.0 L963.9,361.3 L966.4,361.5 L968.9,361.7 L971.4,362.0 L973.9,362.2 L976.4,362.4 L978.9,362.6 L981.4,362.8 L983.9,363.0 L986.4,363.2 L988.9,363.4 L991.3,363.6 L993.8,363.8 L996.3,363.9 L998.8,364.1 L1001.3,364.2 L1003.8,364.4 L1006.3,364.6 L1008.8,364.7 L1011.3,364.8 L1013.8,365.0 L1016.3,365.1 L1018.8,365.2 L1021.3,365.4 L1023.8,365.5 L1026.3,365.6 L1028.8,365.7 L1031.3,365.8 L1033.8,365.9 L1036.3,366.1 L1038.8,366.2 L1041.3,366.3 L1043.8,366.4 L1046.3,366.4 L1048.8,366.5 L1051.3,366.6 L1053.8,366.7 L1056.3,366.8 L1058.8,366.9 L1061.3,367.0 L1063.8,367.0 L1066.3,367.1 L1068.8,367.2 L1071.3,367.2 L1073.8,367.3 L1076.3,367.4 L1078.8,367.4 L1081.3,367.5 L1082.3,367.5" fill="none" stroke="#f184f1" stroke-width="1.9" stroke-dasharray="7.531 2.4" stroke-dashoffset="-1.20"/><path d="M1271.4,370.7 L1273.9,370.8 L1276.4,370.9 L1278.9,371.0 L1281.4,371.1 L1283.9,371.2 L1286.4,371.3 L1288.9,371.4 L1291.4,371.5 L1293.9,371.6 L1296.4,371.7 L1298.9,371.9 L1301.4,372.0 L1303.9,372.1 L1306.4,372.2 L1308.9,372.3 L1311.4,372.4 L1313.9,372.5 L1316.4,372.7 L1318.9,372.8 L1321.4,372.9 L1323.9,373.0 L1326.3,373.1 L1328.8,373.2 L1331.3,373.4 L1333.8,373.5 L1336.3,373.6 L1338.8,373.7 L1341.3,373.8 L1343.8,373.9 L1345.2,374.0" fill="none" stroke="#000" stroke-width="5.2"/><path d="M1271.4,370.7 L1273.9,370.8 L1276.4,370.9 L1278.9,371.0 L1281.4,371.1 L1283.9,371.2 L1286.4,371.3 L1288.9,371.4 L1291.4,371.5 L1293.9,371.6 L1296.4,371.7 L1298.9,371.9 L1301.4,372.0 L1303.9,372.1 L1306.4,372.2 L1308.9,372.3 L1311.4,372.4 L1313.9,372.5 L1316.4,372.7 L1318.9,372.8 L1321.4,372.9 L1323.9,373.0 L1326.3,373.1 L1328.8,373.2 L1331.3,373.4 L1333.8,373.5 L1336.3,373.6 L1338.8,373.7 L1341.3,373.8 L1343.8,373.9 L1345.2,374.0" fill="none" stroke="#35c8ea" stroke-width="1.8" stroke-dasharray="6.834 2.4" stroke-dashoffset="-1.20"/></g>
<g transform="translate(0,878)" clip-path="url(#pc)"><use href="#trk"/><circle cx="1269.6" cy="371.3" r="16.6" fill="#fff" fill-opacity="0.38"/><path d="M427.0,223.7 L429.4,224.4 L431.8,225.1 L434.2,225.8 L436.6,226.5 L439.0,227.2 L441.4,227.9 L443.8,228.5 L446.2,229.2 L448.6,229.9 L451.0,230.6 L453.5,231.2 L455.9,231.9 L458.3,232.6 L460.7,233.3 L463.1,233.9 L465.5,234.6 L467.9,235.3 L470.3,235.9 L472.7,236.6 L475.1,237.3 L477.5,237.9 L479.9,238.6 L482.4,239.3 L484.8,239.9 L487.2,240.6 L489.6,241.3 L492.0,241.9 L494.4,242.6 L496.8,243.2 L499.2,243.9 L501.6,244.6 L504.1,245.2 L506.5,245.9 L508.9,246.5 L511.3,247.2 L513.7,247.9 L516.1,248.5 L518.5,249.2 L520.9,249.8 L523.3,250.5 L525.8,251.2 L528.2,251.8 L530.6,252.5 L533.0,253.2 L535.4,253.8 L537.8,254.5 L540.2,255.1 L542.6,255.8 L545.0,256.5 L547.5,257.1 L549.9,257.8 L552.3,258.5 L554.7,259.1 L557.1,259.8 L559.5,260.5 L561.9,261.1 L564.3,261.8 L566.7,262.5 L569.1,263.2 L571.5,263.8 L573.9,264.5 L576.3,265.2 L578.8,265.9 L581.2,266.6 L583.6,267.3 L586.0,267.9 L588.4,268.6 L590.8,269.3 L593.2,270.0 L595.6,270.7 L598.0,271.4 L600.4,272.1 L602.8,272.8 L605.2,273.5 L607.6,274.2 L610.0,274.9 L612.4,275.6 L614.8,276.3 L617.2,277.0 L619.6,277.7 L622.0,278.4 L624.4,279.1 L626.8,279.8 L629.2,280.5 L631.6,281.2 L634.0,281.9 L636.4,282.6 L638.8,283.3 L641.2,284.0 L643.6,284.7 L646.0,285.4 L648.4,286.1 L650.8,286.8 L653.2,287.5 L655.6,288.2 L658.0,288.9 L660.4,289.6 L662.8,290.3 L665.2,291.0 L667.6,291.7 L670.0,292.4 L672.4,293.1 L674.8,293.8 L677.2,294.5 L679.6,295.3 L682.0,296.0 L684.4,296.7 L686.8,297.4 L689.2,298.0 L691.6,298.7 L694.0,299.4 L696.4,300.1 L698.8,300.8 L701.2,301.5 L703.6,302.2 L706.0,302.9 L708.4,303.6 L710.8,304.3 L713.2,305.0 L715.6,305.7 L718.0,306.4 L720.4,307.0 L722.8,307.7 L725.2,308.4 L727.6,309.1 L730.0,309.8 L732.4,310.4 L734.8,311.1 L737.2,311.8 L739.6,312.5 L742.1,313.1 L744.5,313.8 L746.9,314.5 L749.3,315.1 L751.7,315.8 L754.1,316.5 L756.5,317.1 L758.9,317.8 L761.3,318.4 L763.7,319.1 L766.2,319.7 L768.6,320.4 L771.0,321.0 L773.4,321.7 L775.8,322.3 L778.2,323.0 L780.7,323.6 L783.1,324.3 L785.5,324.9 L787.9,325.5 L790.3,326.2 L792.7,326.8 L795.2,327.4 L797.6,328.0 L800.0,328.7 L802.4,329.3 L804.9,329.9 L807.3,330.5 L809.7,331.1 L812.1,331.7 L814.5,332.3 L817.0,333.0 L819.4,333.6 L821.8,334.2 L824.3,334.8 L826.7,335.4 L829.1,335.9 L831.5,336.5 L834.0,337.1 L836.4,337.7 L838.8,338.3 L841.3,338.9 L843.7,339.4 L846.1,340.0 L848.6,340.6 L851.0,341.1 L853.4,341.7 L855.9,342.3 L858.3,342.8 L860.7,343.4 L863.2,343.9 L865.6,344.5 L868.1,345.0 L870.5,345.6 L872.9,346.1 L875.4,346.6 L877.8,347.1 L880.3,347.7 L882.7,348.2 L885.2,348.7 L887.6,349.2 L890.1,349.7 L892.5,350.2 L895.0,350.7 L897.4,351.2 L899.9,351.7 L902.3,352.1 L904.8,352.6 L907.2,353.0 L909.7,353.5 L912.2,353.9 L914.6,354.4 L917.1,354.8 L919.6,355.2 L922.0,355.6 L924.5,356.0 L927.0,356.4 L929.4,356.8 L931.9,357.2 L934.4,357.6 L936.8,357.9 L939.3,358.3 L941.8,358.6 L944.3,359.0 L946.8,359.3 L949.2,359.6 L951.7,359.9 L954.2,360.2 L956.7,360.5 L959.2,360.8 L961.7,361.0 L964.1,361.3 L966.6,361.5 L969.1,361.8 L971.6,362.0 L974.1,362.2 L976.6,362.4 L979.1,362.6 L981.6,362.9 L984.1,363.0 L986.6,363.2 L989.0,363.4 L991.5,363.6 L994.0,363.8 L996.5,363.9 L999.0,364.1 L1001.5,364.3 L1004.0,364.4 L1006.5,364.6 L1009.0,364.7 L1011.5,364.8 L1014.0,365.0 L1016.5,365.1 L1019.0,365.3 L1021.5,365.4 L1024.0,365.5 L1026.5,365.6 L1029.0,365.7 L1031.5,365.8 L1034.0,366.0 L1036.5,366.1 L1039.0,366.2 L1041.5,366.3 L1044.0,366.4 L1046.5,366.5 L1049.0,366.5 L1051.5,366.6 L1054.0,366.7 L1056.5,366.8 L1059.0,366.9 L1061.5,367.0 L1062.2,367.0" fill="none" stroke="#000" stroke-width="5.2"/><path d="M427.0,223.7 L429.4,224.4 L431.8,225.1 L434.2,225.8 L436.6,226.5 L439.0,227.2 L441.4,227.9 L443.8,228.5 L446.2,229.2 L448.6,229.9 L451.0,230.6 L453.5,231.2 L455.9,231.9 L458.3,232.6 L460.7,233.3 L463.1,233.9 L465.5,234.6 L467.9,235.3 L470.3,235.9 L472.7,236.6 L475.1,237.3 L477.5,237.9 L479.9,238.6 L482.4,239.3 L484.8,239.9 L487.2,240.6 L489.6,241.3 L492.0,241.9 L494.4,242.6 L496.8,243.2 L499.2,243.9 L501.6,244.6 L504.1,245.2 L506.5,245.9 L508.9,246.5 L511.3,247.2 L513.7,247.9 L516.1,248.5 L518.5,249.2 L520.9,249.8 L523.3,250.5 L525.8,251.2 L528.2,251.8 L530.6,252.5 L533.0,253.2 L535.4,253.8 L537.8,254.5 L540.2,255.1 L542.6,255.8 L545.0,256.5 L547.5,257.1 L549.9,257.8 L552.3,258.5 L554.7,259.1 L557.1,259.8 L559.5,260.5 L561.9,261.1 L564.3,261.8 L566.7,262.5 L569.1,263.2 L571.5,263.8 L573.9,264.5 L576.3,265.2 L578.8,265.9 L581.2,266.6 L583.6,267.3 L586.0,267.9 L588.4,268.6 L590.8,269.3 L593.2,270.0 L595.6,270.7 L598.0,271.4 L600.4,272.1 L602.8,272.8 L605.2,273.5 L607.6,274.2 L610.0,274.9 L612.4,275.6 L614.8,276.3 L617.2,277.0 L619.6,277.7 L622.0,278.4 L624.4,279.1 L626.8,279.8 L629.2,280.5 L631.6,281.2 L634.0,281.9 L636.4,282.6 L638.8,283.3 L641.2,284.0 L643.6,284.7 L646.0,285.4 L648.4,286.1 L650.8,286.8 L653.2,287.5 L655.6,288.2 L658.0,288.9 L660.4,289.6 L662.8,290.3 L665.2,291.0 L667.6,291.7 L670.0,292.4 L672.4,293.1 L674.8,293.8 L677.2,294.5 L679.6,295.3 L682.0,296.0 L684.4,296.7 L686.8,297.4 L689.2,298.0 L691.6,298.7 L694.0,299.4 L696.4,300.1 L698.8,300.8 L701.2,301.5 L703.6,302.2 L706.0,302.9 L708.4,303.6 L710.8,304.3 L713.2,305.0 L715.6,305.7 L718.0,306.4 L720.4,307.0 L722.8,307.7 L725.2,308.4 L727.6,309.1 L730.0,309.8 L732.4,310.4 L734.8,311.1 L737.2,311.8 L739.6,312.5 L742.1,313.1 L744.5,313.8 L746.9,314.5 L749.3,315.1 L751.7,315.8 L754.1,316.5 L756.5,317.1 L758.9,317.8 L761.3,318.4 L763.7,319.1 L766.2,319.7 L768.6,320.4 L771.0,321.0 L773.4,321.7 L775.8,322.3 L778.2,323.0 L780.7,323.6 L783.1,324.3 L785.5,324.9 L787.9,325.5 L790.3,326.2 L792.7,326.8 L795.2,327.4 L797.6,328.0 L800.0,328.7 L802.4,329.3 L804.9,329.9 L807.3,330.5 L809.7,331.1 L812.1,331.7 L814.5,332.3 L817.0,333.0 L819.4,333.6 L821.8,334.2 L824.3,334.8 L826.7,335.4 L829.1,335.9 L831.5,336.5 L834.0,337.1 L836.4,337.7 L838.8,338.3 L841.3,338.9 L843.7,339.4 L846.1,340.0 L848.6,340.6 L851.0,341.1 L853.4,341.7 L855.9,342.3 L858.3,342.8 L860.7,343.4 L863.2,343.9 L865.6,344.5 L868.1,345.0 L870.5,345.6 L872.9,346.1 L875.4,346.6 L877.8,347.1 L880.3,347.7 L882.7,348.2 L885.2,348.7 L887.6,349.2 L890.1,349.7 L892.5,350.2 L895.0,350.7 L897.4,351.2 L899.9,351.7 L902.3,352.1 L904.8,352.6 L907.2,353.0 L909.7,353.5 L912.2,353.9 L914.6,354.4 L917.1,354.8 L919.6,355.2 L922.0,355.6 L924.5,356.0 L927.0,356.4 L929.4,356.8 L931.9,357.2 L934.4,357.6 L936.8,357.9 L939.3,358.3 L941.8,358.6 L944.3,359.0 L946.8,359.3 L949.2,359.6 L951.7,359.9 L954.2,360.2 L956.7,360.5 L959.2,360.8 L961.7,361.0 L964.1,361.3 L966.6,361.5 L969.1,361.8 L971.6,362.0 L974.1,362.2 L976.6,362.4 L979.1,362.6 L981.6,362.9 L984.1,363.0 L986.6,363.2 L989.0,363.4 L991.5,363.6 L994.0,363.8 L996.5,363.9 L999.0,364.1 L1001.5,364.3 L1004.0,364.4 L1006.5,364.6 L1009.0,364.7 L1011.5,364.8 L1014.0,365.0 L1016.5,365.1 L1019.0,365.3 L1021.5,365.4 L1024.0,365.5 L1026.5,365.6 L1029.0,365.7 L1031.5,365.8 L1034.0,366.0 L1036.5,366.1 L1039.0,366.2 L1041.5,366.3 L1044.0,366.4 L1046.5,366.5 L1049.0,366.5 L1051.5,366.6 L1054.0,366.7 L1056.5,366.8 L1059.0,366.9 L1061.5,367.0 L1062.2,367.0" fill="none" stroke="#ffe100" stroke-width="1.9" stroke-dasharray="8.309 2.4" stroke-dashoffset="-1.20"/><path d="M1062.2,367.0 L1064.7,367.1 L1067.2,367.1 L1069.7,367.2 L1072.2,367.3 L1074.7,367.3 L1077.2,367.4 L1079.7,367.5 L1082.2,367.5 L1084.7,367.6 L1087.2,367.6 L1089.7,367.7 L1092.2,367.7 L1094.7,367.8 L1097.2,367.8 L1099.7,367.9 L1102.2,367.9 L1104.7,368.0 L1107.2,368.0 L1109.7,368.0 L1112.2,368.1 L1114.7,368.1 L1117.2,368.1 L1119.7,368.2 L1122.2,368.2 L1124.7,368.2 L1127.2,368.3 L1129.7,368.3 L1132.2,368.3 L1134.7,368.4 L1137.2,368.4 L1139.7,368.4 L1142.2,368.5 L1144.7,368.5 L1147.2,368.5 L1149.7,368.5 L1152.2,368.6 L1154.7,368.6 L1157.2,368.6 L1159.7,368.6 L1162.2,368.7 L1164.7,368.7 L1167.2,368.7 L1169.7,368.7 L1172.2,368.8 L1174.7,368.8 L1177.2,368.8 L1179.7,368.9 L1182.2,368.9 L1184.7,368.9 L1187.2,368.9 L1189.7,369.0 L1192.2,369.0 L1194.7,369.0 L1197.2,369.1 L1199.7,369.1 L1202.2,369.1 L1204.7,369.2 L1207.2,369.2 L1209.7,369.2 L1212.2,369.3 L1214.7,369.3 L1217.2,369.4 L1219.7,369.4 L1222.2,369.5 L1224.7,369.5 L1227.2,369.5 L1229.7,369.6 L1232.2,369.7 L1234.7,369.7 L1237.2,369.8 L1239.7,369.8 L1242.2,369.9 L1244.7,369.9 L1247.2,370.0 L1249.7,370.1 L1252.2,370.1 L1254.7,370.2 L1257.2,370.3 L1259.7,370.4 L1262.2,370.4 L1264.7,370.5 L1267.2,370.6 L1269.7,370.7 L1270.5,370.7" fill="none" stroke="#000" stroke-width="5.2"/><path d="M1062.2,367.0 L1064.7,367.1 L1067.2,367.1 L1069.7,367.2 L1072.2,367.3 L1074.7,367.3 L1077.2,367.4 L1079.7,367.5 L1082.2,367.5 L1084.7,367.6 L1087.2,367.6 L1089.7,367.7 L1092.2,367.7 L1094.7,367.8 L1097.2,367.8 L1099.7,367.9 L1102.2,367.9 L1104.7,368.0 L1107.2,368.0 L1109.7,368.0 L1112.2,368.1 L1114.7,368.1 L1117.2,368.1 L1119.7,368.2 L1122.2,368.2 L1124.7,368.2 L1127.2,368.3 L1129.7,368.3 L1132.2,368.3 L1134.7,368.4 L1137.2,368.4 L1139.7,368.4 L1142.2,368.5 L1144.7,368.5 L1147.2,368.5 L1149.7,368.5 L1152.2,368.6 L1154.7,368.6 L1157.2,368.6 L1159.7,368.6 L1162.2,368.7 L1164.7,368.7 L1167.2,368.7 L1169.7,368.7 L1172.2,368.8 L1174.7,368.8 L1177.2,368.8 L1179.7,368.9 L1182.2,368.9 L1184.7,368.9 L1187.2,368.9 L1189.7,369.0 L1192.2,369.0 L1194.7,369.0 L1197.2,369.1 L1199.7,369.1 L1202.2,369.1 L1204.7,369.2 L1207.2,369.2 L1209.7,369.2 L1212.2,369.3 L1214.7,369.3 L1217.2,369.4 L1219.7,369.4 L1222.2,369.5 L1224.7,369.5 L1227.2,369.5 L1229.7,369.6 L1232.2,369.7 L1234.7,369.7 L1237.2,369.8 L1239.7,369.8 L1242.2,369.9 L1244.7,369.9 L1247.2,370.0 L1249.7,370.1 L1252.2,370.1 L1254.7,370.2 L1257.2,370.3 L1259.7,370.4 L1262.2,370.4 L1264.7,370.5 L1267.2,370.6 L1269.7,370.7 L1270.5,370.7" fill="none" stroke="#f184f1" stroke-width="1.9" stroke-dasharray="7.521 2.4" stroke-dashoffset="-1.20"/><path d="M1270.5,370.7 L1273.0,370.8 L1275.5,370.9 L1278.0,371.0 L1280.5,371.1 L1283.0,371.2 L1285.5,371.3 L1288.0,371.4 L1290.5,371.5 L1293.0,371.6 L1295.5,371.7 L1298.0,371.8 L1300.5,371.9 L1303.0,372.0 L1305.5,372.2 L1308.0,372.3 L1310.5,372.4 L1313.0,372.5 L1315.5,372.6 L1318.0,372.7 L1320.5,372.9 L1323.0,373.0 L1325.4,373.1 L1327.9,373.2 L1330.4,373.3 L1332.9,373.4 L1335.4,373.6 L1337.9,373.7 L1340.4,373.8 L1342.9,373.9 L1345.2,374.0" fill="none" stroke="#000" stroke-width="5.2"/><path d="M1270.5,370.7 L1273.0,370.8 L1275.5,370.9 L1278.0,371.0 L1280.5,371.1 L1283.0,371.2 L1285.5,371.3 L1288.0,371.4 L1290.5,371.5 L1293.0,371.6 L1295.5,371.7 L1298.0,371.8 L1300.5,371.9 L1303.0,372.0 L1305.5,372.2 L1308.0,372.3 L1310.5,372.4 L1313.0,372.5 L1315.5,372.6 L1318.0,372.7 L1320.5,372.9 L1323.0,373.0 L1325.4,373.1 L1327.9,373.2 L1330.4,373.3 L1332.9,373.4 L1335.4,373.6 L1337.9,373.7 L1340.4,373.8 L1342.9,373.9 L1345.2,374.0" fill="none" stroke="#35c8ea" stroke-width="1.8" stroke-dasharray="6.947 2.4" stroke-dashoffset="-1.20"/></g>
<g transform="translate(0,0)" filter="url(#glowu)" fill="#000" stroke="#000" stroke-width="0.7"><path d="M636.0,92.7 L652.6,55.3" stroke="#000" stroke-width="3.5" fill="none"/><path d="M665.1,26.9 L660.2,59.7 L644.2,52.6Z" fill="#000"/><text x="663.7" y="92.4" font-size="26" textLength="200.7" lengthAdjust="spacingAndGlyphs">To intermodal yard</text><text x="413.4" y="115.8" font-size="26" textLength="75.4" lengthAdjust="spacingAndGlyphs">IC train</text><text x="389.3" y="145.5" font-size="26" textLength="124.2" lengthAdjust="spacingAndGlyphs">direction of</text><text x="394.7" y="176.2" font-size="26" textLength="113.2" lengthAdjust="spacingAndGlyphs">movement</text><text x="56.8" y="256.2" font-size="29" textLength="238.5" lengthAdjust="spacingAndGlyphs">IC train — 61 railcars</text><text x="59.8" y="289.5" font-size="29" textLength="231.6" lengthAdjust="spacingAndGlyphs">picked up from yard</text><path d="M175.7,219.6 L216.9,186.5" stroke="#000" stroke-width="3.5" fill="none"/><path d="M241.1,167.1 L221.6,194.0 L210.7,180.3Z" fill="#000"/><text x="927.9" y="224.0" font-size="29" textLength="126.0" lengthAdjust="spacingAndGlyphs">21 railcars</text><text x="941.2" y="259.5" font-size="29" textLength="99.5" lengthAdjust="spacingAndGlyphs">(staged)</text><path d="M990.2,280.2 L970.9,324.5" stroke="#000" stroke-width="3.5" fill="none"/><path d="M958.5,352.9 L963.3,320.1 L979.3,327.1Z" fill="#000"/><path d="M574.3,103.4 L573.2,106.1 L572.0,108.9 L570.9,111.7 L569.6,114.4 L568.4,117.1 L567.1,119.9 L565.8,122.6 L564.5,125.3 L563.1,127.9 L561.7,130.6 L560.3,133.2 L558.8,135.8 L557.3,138.4 L555.7,141.0 L554.1,143.5 L552.5,146.0 L550.8,148.5 L549.1,150.9 L547.3,153.4 L545.5,155.7 L543.6,158.1 L541.7,160.4 L539.7,162.7 L537.7,164.9 L535.6,167.0 L533.5,169.2 L531.3,171.2 L529.1,173.2 L526.8,175.2 L524.5,177.1 L522.1,179.0 L519.7,180.7 L517.3,182.5 L514.8,184.1 L512.2,185.7 L509.6,187.2 L507.0,188.7 L504.4,190.1 L501.7,191.4 L498.9,192.7 L496.2,193.8 L493.4,194.9 L490.6,195.9 L487.7,196.9 L484.8,197.7 L481.9,198.5 L479.0,199.2 L476.1,199.8 L473.1,200.3 L470.2,200.7 L467.2,201.1 L464.2,201.3 L461.2,201.5 L458.2,201.6 L455.2,201.7 L452.2,201.7 L449.2,201.6 L446.2,201.5 L443.2,201.3 L440.2,201.0 L437.2,200.7 L434.3,200.3 L431.3,199.9 L428.3,199.5 L425.4,199.0 L422.4,198.4 L419.5,197.9 L416.5,197.3 L413.6,196.6 L410.7,195.9 L407.8,195.2 L404.9,194.5 L402.0,193.7 L399.1,192.9 L396.2,192.1 L393.3,191.3 L390.4,190.4 L387.6,189.5 L384.7,188.6 L381.8,187.7 L379.0,186.7 L376.1,185.8 L373.3,184.8 L370.5,183.8 L367.6,182.8 L364.8,181.8 L362.0,180.8 L359.2,179.8 L356.3,178.8 L353.5,177.8 L350.7,176.8 L347.9,175.7 L345.1,174.7 L342.2,173.7 L339.4,172.7 L336.6,171.6 L333.8,170.6 L330.9,169.6 L328.1,168.7 L325.3,167.7 L322.4,166.7 L319.6,165.8 L316.7,164.8 L313.9,163.9 L311.0,163.0 L309.2,162.4" fill="none" stroke="#000" stroke-width="2.9" stroke-dasharray="18.2 6.1" stroke-dashoffset="9.2"/><path d="M315.8,173.6 L309.2,162.4 L321.0,157.0" fill="none" stroke="#000" stroke-width="2.7" stroke-linejoin="miter"/><path d="M319.7,165.7 L310.6,162.9" fill="none" stroke="#000" stroke-width="2.9"/><text x="1171.5" y="224.3" font-size="29" textLength="147.8" lengthAdjust="spacingAndGlyphs">Amtrak train</text><text x="1175.8" y="260.6" font-size="29" textLength="139.1" lengthAdjust="spacingAndGlyphs">(stationary)</text><path d="M1245.8,280.4 L1290.2,341.3" stroke="#000" stroke-width="3.5" fill="none"/><path d="M1308.4,366.4 L1282.5,345.7 L1296.6,335.4Z" fill="#000"/></g>
<g transform="translate(0,439)" filter="url(#glowu)" fill="#000" stroke="#000" stroke-width="0.7"><path d="M636.0,92.7 L652.6,55.3" stroke="#000" stroke-width="3.5" fill="none"/><path d="M665.1,26.9 L660.2,59.7 L644.2,52.6Z" fill="#000"/><text x="663.7" y="92.4" font-size="26" textLength="200.7" lengthAdjust="spacingAndGlyphs">To intermodal yard</text><text x="1171.5" y="224.3" font-size="29" textLength="147.8" lengthAdjust="spacingAndGlyphs">Amtrak train</text><text x="1175.8" y="260.6" font-size="29" textLength="139.1" lengthAdjust="spacingAndGlyphs">(stationary)</text><path d="M1245.8,280.4 L1290.2,341.3" stroke="#000" stroke-width="3.5" fill="none"/><path d="M1308.4,366.4 L1282.5,345.7 L1296.6,335.4Z" fill="#000"/><text x="782.3" y="223.6" font-size="29" textLength="259.6" lengthAdjust="spacingAndGlyphs">61 railcars coupled to</text><text x="804.3" y="260.7" font-size="29" textLength="214.9" lengthAdjust="spacingAndGlyphs">21 staged railcars</text><path d="M912.1,277.5 L893.2,312.7" stroke="#000" stroke-width="3.5" fill="none"/><path d="M878.5,340.0 L885.9,307.7 L901.4,316.0Z" fill="#000"/><path d="M534.9,281.7 L868.1,371.7" fill="none" stroke="#000" stroke-width="2.9" stroke-dasharray="18.2 6.1"/><path d="M861.0,360.8 L868.1,371.7 L856.5,377.6" fill="none" stroke="#000" stroke-width="2.7" stroke-linejoin="miter"/><path d="M857.5,368.8 L866.7,371.3" fill="none" stroke="#000" stroke-width="2.9"/><text transform="translate(531.7,318.3) rotate(14.75)" x="-0.8" y="0" font-size="26" textLength="318.6" lengthAdjust="spacingAndGlyphs">IC train direction of movement</text></g>
<g transform="translate(0,878)" filter="url(#glowu)" fill="#000" stroke="#000" stroke-width="0.7"><path d="M636.0,92.7 L652.6,55.3" stroke="#000" stroke-width="3.5" fill="none"/><path d="M665.1,26.9 L660.2,59.7 L644.2,52.6Z" fill="#000"/><text x="663.7" y="92.4" font-size="26" textLength="200.7" lengthAdjust="spacingAndGlyphs">To intermodal yard</text><text x="1162.2" y="221.0" font-size="29" textLength="93.9" lengthAdjust="spacingAndGlyphs">Point of</text><text x="1167.9" y="256.8" font-size="29" textLength="82.7" lengthAdjust="spacingAndGlyphs">impact</text><path d="M1210.4,280.5 L1244.3,324.0" stroke="#000" stroke-width="3.5" fill="none"/><path d="M1263.4,348.5 L1236.8,328.6 L1250.6,317.9Z" fill="#000"/><path d="M729.4,335.3 L732.2,336.4 L735.0,337.5 L737.9,338.5 L740.7,339.6 L743.5,340.6 L746.3,341.6 L749.1,342.6 L752.0,343.6 L754.8,344.6 L757.6,345.6 L760.5,346.6 L763.3,347.6 L766.1,348.5 L769.0,349.5 L771.8,350.4 L774.7,351.3 L777.5,352.3 L780.4,353.2 L783.3,354.1 L786.1,354.9 L789.0,355.8 L791.9,356.7 L794.7,357.6 L797.6,358.4 L800.5,359.2 L803.4,360.1 L806.3,360.9 L809.2,361.7 L812.1,362.5 L814.9,363.3 L817.8,364.1 L820.7,364.9 L823.6,365.6 L826.5,366.4 L829.5,367.1 L832.4,367.8 L835.3,368.6 L838.2,369.3 L841.1,370.0 L844.0,370.7 L846.9,371.4 L849.9,372.0 L852.8,372.7 L855.7,373.4 L858.7,374.0 L861.6,374.6 L864.5,375.3 L867.5,375.9 L870.4,376.5 L873.3,377.1 L876.3,377.7 L879.2,378.2 L882.2,378.8 L885.1,379.4 L888.1,379.9 L891.0,380.4 L894.0,381.0 L896.9,381.5 L899.9,382.0 L902.8,382.5 L905.8,383.0 L908.8,383.4 L911.7,383.9 L914.7,384.4 L917.7,384.8 L920.6,385.3 L923.6,385.7 L926.6,386.1 L929.5,386.5 L932.5,386.9 L935.5,387.3 L938.5,387.7 L941.4,388.0 L944.4,388.4 L947.4,388.7 L950.4,389.1 L953.4,389.4 L956.3,389.7 L959.3,390.0 L962.3,390.3 L965.3,390.6 L968.3,390.9 L971.3,391.2 L974.3,391.4 L977.3,391.7 L980.2,391.9 L983.2,392.1 L986.2,392.4 L989.2,392.6 L992.2,392.8 L995.2,393.0 L998.2,393.1 L1001.2,393.3 L1004.2,393.5 L1007.2,393.6 L1010.2,393.7 L1013.2,393.9 L1016.2,394.0 L1019.2,394.1 L1022.2,394.2 L1025.2,394.3 L1028.2,394.4 L1031.2,394.4 L1034.2,394.5 L1037.2,394.6 L1040.2,394.6 L1043.2,394.6 L1046.2,394.6 L1049.2,394.7 L1052.2,394.7 L1055.2,394.6 L1058.2,394.6 L1061.2,394.6 L1064.2,394.6 L1066.4,394.5" fill="none" stroke="#000" stroke-width="2.9" stroke-dasharray="18.2 6.1"/><path d="M1056.6,386.0 L1066.4,394.5 L1056.9,403.4" fill="none" stroke="#000" stroke-width="2.7" stroke-linejoin="miter"/><path d="M1055.4,394.7 L1064.9,394.5" fill="none" stroke="#000" stroke-width="2.9"/><path id="tp3" d="M728.7,372.4 L732.5,373.8 L736.2,375.2 L740.0,376.6 L743.7,377.9 L747.5,379.3 L751.3,380.6 L755.1,381.9 L758.9,383.1 L762.7,384.4 L766.5,385.6 L770.3,386.8 L774.1,388.0 L777.9,389.2 L781.8,390.3 L785.6,391.4 L789.5,392.6 L793.3,393.6 L797.2,394.7 L801.0,395.8 L804.9,396.8 L808.8,397.8 L812.6,398.8 L816.5,399.8 L820.4,400.7 L824.3,401.7 L828.2,402.6 L832.1,403.5 L836.0,404.4 L839.9,405.2 L843.8,406.1 L847.7,406.9 L851.6,407.7 L855.5,408.5 L859.5,409.3 L863.4,410.0 L867.3,410.7 L871.3,411.5 L875.2,412.1 L879.1,412.8 L883.1,413.5 L887.0,414.1 L891.0,414.7 L894.9,415.3 L898.9,415.9 L902.9,416.5 L906.8,417.0 L910.8,417.5 L914.8,418.0 L918.7,418.5 L922.7,419.0 L926.7,419.4 L930.7,419.9 L934.6,420.3 L938.6,420.7 L942.6,421.1 L946.6,421.4 L950.6,421.8 L954.6,422.1 L958.5,422.4 L962.5,422.7 L966.5,423.0 L970.5,423.2 L974.5,423.4 L978.5,423.7 L982.5,423.9 L986.5,424.0 L990.5,424.2 L994.5,424.4 L998.5,424.5 L1002.5,424.6 L1006.5,424.7 L1010.5,424.8 L1014.5,424.8 L1018.5,424.9 L1022.5,424.9 L1026.5,424.9 L1030.5,424.9 L1034.5,424.9 L1038.5,424.8 L1042.5,424.7 L1046.5,424.7 L1050.5,424.6 L1054.5,424.5 L1058.5,424.3 L1060.0,424.3" fill="none" stroke="none"/><text font-size="26" textLength="320.4" lengthAdjust="spacingAndGlyphs"><textPath href="#tp3" textLength="320.4" lengthAdjust="spacingAndGlyphs">IC train direction of movement</textPath></text><text x="67.8" y="369.5" font-size="29" textLength="86.2" lengthAdjust="spacingAndGlyphs">1000 ft</text><path d="M31.9,372.2 V385.0 H191 V372.2" fill="none" stroke="#000" stroke-width="2.1"/><text x="21.9" y="412.6" font-size="22.6" textLength="178.6" lengthAdjust="spacingAndGlyphs">Scale approximate</text></g>
<g filter="url(#glowk)"><ellipse cx="44.3" cy="47" rx="27.2" ry="28.7" fill="#fff" stroke="#000" stroke-width="2.2"/><text x="44.8" y="55.5" font-size="30.5" text-anchor="middle" textLength="17.0" lengthAdjust="spacingAndGlyphs">1</text><ellipse cx="44.3" cy="486" rx="27.2" ry="28.7" fill="#fff" stroke="#000" stroke-width="2.2"/><text x="44.3" y="494.5" font-size="30.5" text-anchor="middle" textLength="14.8" lengthAdjust="spacingAndGlyphs">2</text><ellipse cx="44.3" cy="925" rx="27.2" ry="28.7" fill="#fff" stroke="#000" stroke-width="2.2"/><text x="44.3" y="933.5" font-size="30.5" text-anchor="middle" textLength="14.8" lengthAdjust="spacingAndGlyphs">3</text></g>
<g filter="url(#glowc)"><path d="M1347.6,25.199999999999996 L1349.8999999999999,36.8 H1345.3Z M1347.6,100.69999999999999 L1349.8999999999999,88.8 H1345.3Z M1310.3999999999999,62.8 L1321.6,60.5 V65.1Z" fill="#000"/><circle cx="1347.6" cy="62.8" r="26.8" fill="#fff" stroke="#000" stroke-width="2.6"/><path d="M1401.8,62.5 L1361.8,51 L1375.4,62.5 L1361.8,74.4Z" fill="#fff" stroke="#000" stroke-width="1.1" stroke-linejoin="miter"/><path d="M1401.8,62.5 L1361.8,51 L1375.4,62.5Z" fill="#000"/><text x="1349.5" y="71.5" font-size="30.5" font-weight="bold" text-anchor="middle" textLength="20.7" lengthAdjust="spacingAndGlyphs">N</text></g>
<g><circle cx="1269.6" cy="1249.3" r="21.4" fill="none" stroke="#111" stroke-width="1.1"/><circle cx="1269.6" cy="1249.3" r="16.7" fill="none" stroke="#fff" stroke-width="1.3"/><circle cx="1269.6" cy="1249.3" r="19.1" fill="none" stroke="#ec1c24" stroke-width="3.6"/><text x="1269.6" y="1258.7" font-size="27" font-weight="bold" text-anchor="middle" textLength="18.8" lengthAdjust="spacingAndGlyphs" fill="#ec1c24" stroke="#fff" stroke-width="2.2" stroke-linejoin="miter" paint-order="stroke" filter="url(#xo)">X</text></g>
<g fill="#000" filter="url(#glowf)"><rect x="0" y="0" width="1430" height="2.1"/><rect x="1" y="0" width="2" height="1320"/><rect x="1427.2" y="0" width="1.8" height="1320"/><rect x="0" y="1316.9" width="1430" height="2.1"/><rect x="0" y="438.4" width="1430" height="3.5"/><rect x="0" y="877.4" width="1430" height="3.5"/></g>
<rect x="0" y="2" width="1" height="1318" fill="#6e6e6e"/><rect x="1429" y="2" width="1" height="1318" fill="#333"/><rect x="0" y="1319" width="1430" height="1" fill="#999"/>
</svg>
</body></html>
